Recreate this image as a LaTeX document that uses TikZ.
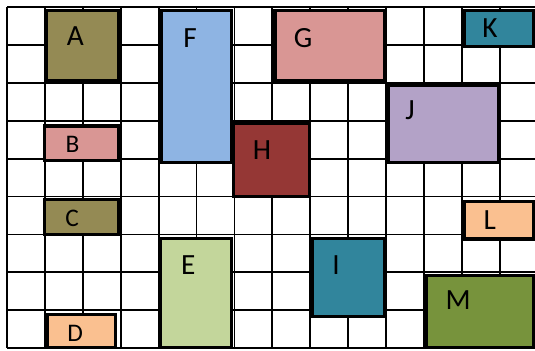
\documentclass[tikz,border=0pt]{standalone}
\usepackage{fontspec}
\setmainfont{Carlito}
\usepackage{tikz}
\usetikzlibrary{positioning}
\definecolor{cOlive}{RGB}{148,138,84}
\definecolor{cRose}{RGB}{217,150,148}
\definecolor{cPeach}{RGB}{250,192,144}
\definecolor{cSage}{RGB}{195,214,155}
\definecolor{cSky}{RGB}{142,180,227}
\definecolor{cBrick}{RGB}{149,55,53}
\definecolor{cTeal}{RGB}{49,133,156}
\definecolor{cLilac}{RGB}{179,162,199}
\definecolor{cMoss}{RGB}{119,147,60}

\begin{document}
\begin{tikzpicture}[x=1cm, y=-1cm,
    gridline/.style={line width=1.4pt, black},
    block/.style={line width=2.3pt, draw=black},
    tag/.style={inner sep=0pt, font=\fontsize{22}{24}\selectfont},
    smalltag/.style={inner sep=0pt, font=\fontsize{19}{21}\selectfont}]

    % Page frame (keeps the margins of the sheet)
    \useasboundingbox (-0.185,-0.185) rectangle (13.93,9.05);

    % Background grid: 14 columns, 9 rows
    \draw [gridline] (0,0) grid (14,9);

    % Coloured blocks: name / corners / colour / label position / label style
    \foreach \name/\xa/\ya/\xb/\yb/\col/\lx/\ly/\sty in {
        A/1.03/0.10/2.95/1.95/cOlive/1.80/0.77/tag,
        F/4.08/0.10/5.93/4.09/cSky/4.83/0.82/tag,
        G/7.07/0.10/9.97/1.95/cRose/7.81/0.82/tag,
        K/12.07/0.10/13.88/1.03/cTeal/12.74/0.55/tag,
        J/10.06/2.07/12.97/4.09/cLilac/10.63/2.72/tag,
        B/0.98/3.14/2.93/4.06/cRose/1.73/3.62/smalltag,
        H/5.97/3.07/7.97/5.00/cBrick/6.73/3.77/tag,
        C/0.98/5.08/2.93/6.00/cOlive/1.72/5.57/smalltag,
        L/12.07/5.12/13.88/6.12/cPeach/12.74/5.62/tag,
        E/4.05/6.10/5.93/8.98/cSage/4.78/6.82/tag,
        I/8.07/6.10/9.97/8.16/cTeal/8.68/6.82/tag,
        M/11.06/7.08/13.88/8.98/cMoss/11.90/7.73/tag,
        D/1.06/8.12/2.87/8.98/cPeach/1.80/8.60/smalltag} {
        \draw [block, fill=\col] (\xa,\ya) rectangle (\xb,\yb);
        \node [\sty] (lbl\name) at (\lx,\ly) {\name};
    }
\end{tikzpicture}
\end{document}
